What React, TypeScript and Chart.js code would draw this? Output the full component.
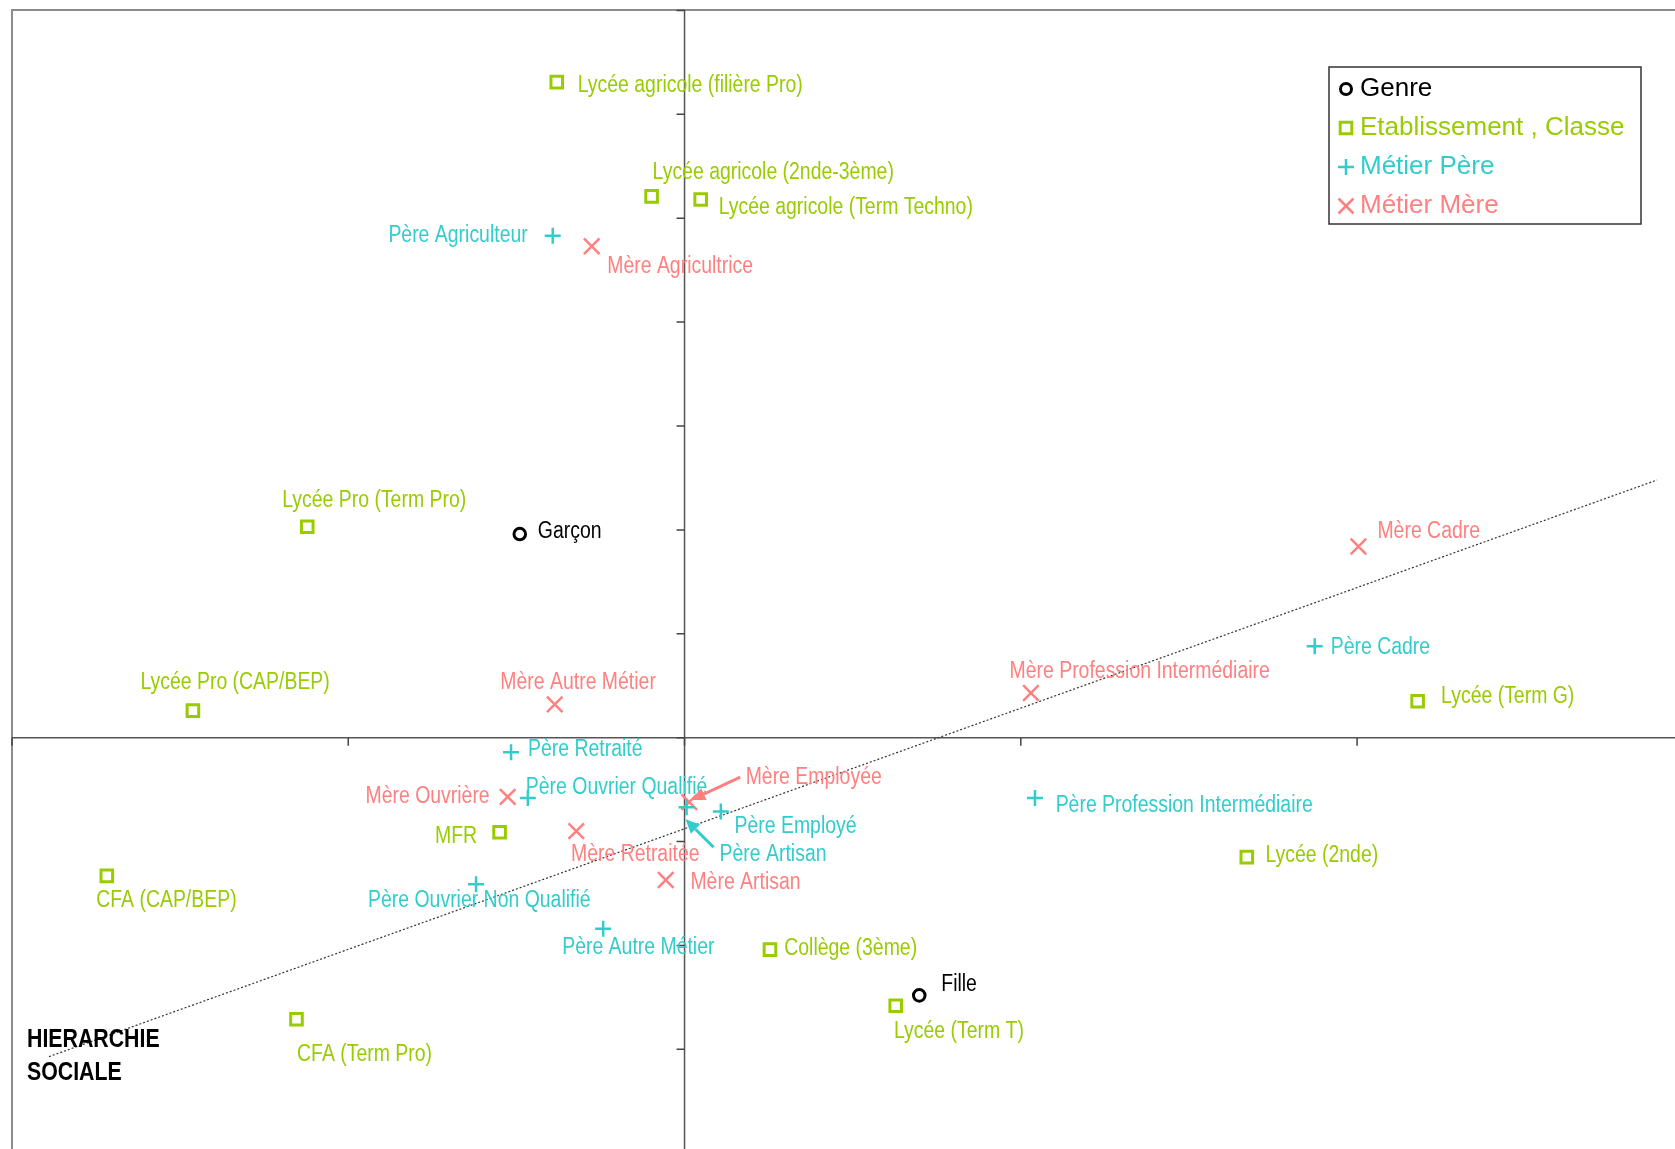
import React, { useEffect, useRef } from 'react';
import { Chart, registerables } from 'chart.js';

Chart.register(...registerables);

// ---------- DATA ----------
const genreLabels = ['Garçon', 'Fille'];
const genreX = [-0.245, 0.349];
const genreY = [0.196, -0.248];

const etabLabels = [
  'Lycée agricole (filière Pro)',
  'Lycée agricole (2nde-3ème)',
  'Lycée agricole (Term Techno)',
  'Lycée Pro (Term Pro)',
  'Lycée Pro (CAP/BEP)',
  'MFR',
  'CFA (CAP/BEP)',
  'CFA (Term Pro)',
  'Collège (3ème)',
  'Lycée (Term T)',
  'Lycée (2nde)',
  'Lycée (Term G)',
];
const etabX = [-0.19, -0.049, 0.024, -0.561, -0.731, -0.275, -0.859, -0.577, 0.127, 0.314, 0.836, 1.09];
const etabY = [0.631, 0.521, 0.518, 0.203, 0.026, -0.091, -0.133, -0.271, -0.204, -0.258, -0.115, 0.035];

const pereLabels = [
  'Père Agriculteur',
  'Père Retraité',
  'Père Ouvrier Qualifié',
  'Père Ouvrier Non Qualifié',
  'Père Autre Métier',
  'Père Artisan',
  'Père Employé',
  'Père Profession Intermédiaire',
  'Père Cadre',
];
const pereX = [-0.196, -0.258, -0.233, -0.31, -0.121, 0.003, 0.054, 0.521, 0.937];
const pereY = [0.483, -0.014, -0.058, -0.141, -0.184, -0.067, -0.071, -0.058, 0.088];

const mereLabels = [
  'Mère Agricultrice',
  'Mère Autre Métier',
  'Mère Ouvrière',
  'Mère Retraitée',
  'Mère Employée',
  'Mère Artisan',
  'Mère Profession Intermédiaire',
  'Mère Cadre',
];
const mereX = [-0.138, -0.193, -0.263, -0.161, 0.007, -0.028, 0.515, 1.002];
const mereY = [0.473, 0.032, -0.057, -0.09, -0.062, -0.137, 0.043, 0.184];

// "HIERARCHIE SOCIALE" trend line
const hierX = [-0.945, 1.446];
const hierY = [-0.307, 0.248];
const hierText = ['HIERARCHIE', 'SOCIALE'];

// unlabeled tick marks on the axes through the origin
const xTicks = [-1, -0.5, 0, 0.5, 1];
const yTicks = [-0.3, -0.2, -0.1, 0, 0.1, 0.2, 0.3, 0.4, 0.5, 0.6, 0.7];

// ---------- LAYOUT (label placement relative to markers, px) ----------
type Off = [number, number, 'l' | 'r' | 'c'];
const genreOff: Off[] = [[18, -4, 'l'], [22, -12, 'l']];
const etabOff: Off[] = [
  [21, 2, 'l'], [1, -25, 'l'], [18, 7, 'l'], [-25, -28, 'l'], [-52.5, -30, 'l'], [-22.5, 3, 'r'],
  [-10.6, 23.6, 'l'], [0.6, 34, 'l'], [14.3, -2.6, 'l'], [-1.7, 24, 'l'], [18.7, -3.4, 'l'], [23.5, -6.7, 'l'],
];
const pereOff: Off[] = [
  [-25, -2, 'r'], [17, -4.3, 'l'], [-2, -11.7, 'l'], [-108, 15, 'l'], [-41, 17.7, 'l'],
  [33, 46, 'l'], [13.6, 14, 'l'], [20.7, 6.3, 'l'], [16, 0, 'l'],
];
const mereOff: Off[] = [
  [15.5, 19, 'l'], [-54.4, -23, 'l'], [-18, -1.7, 'r'], [-5.3, 21.6, 'l'], [56.4, -26.3, 'l'],
  [24.7, 1, 'l'], [-21.4, -22.6, 'l'], [19, -16.7, 'l'],
];
const LABEL_DY = 1.6;

const BLACK = '#000000';
const GREEN = '#99CC00';
const CYAN = '#33CCCC';
const PINK = '#FF8080';
const FONT_FAMILY = "'Liberation Sans', Arial, Helvetica, sans-serif";
const LABEL_FONT = `23px ${FONT_FAMILY}`;
const NARROW = 0.845;

const series = [
  { name: 'Genre', labels: genreLabels, xs: genreX, ys: genreY, off: genreOff, color: BLACK, style: 'circle' },
  { name: 'Etablissement , Classe', labels: etabLabels, xs: etabX, ys: etabY, off: etabOff, color: GREEN, style: 'rect' },
  { name: 'Métier Père', labels: pereLabels, xs: pereX, ys: pereY, off: pereOff, color: CYAN, style: 'cross' },
  { name: 'Métier Mère', labels: mereLabels, xs: mereX, ys: mereY, off: mereOff, color: PINK, style: 'crossRot' },
];

function drawText(ctx: CanvasRenderingContext2D, text: string, x: number, y: number, align: string, font: string, color: string, sx: number) {
  ctx.save();
  ctx.font = font;
  ctx.fillStyle = color;
  ctx.textBaseline = 'middle';
  ctx.textAlign = 'left';
  const w = ctx.measureText(text).width * sx;
  const left = align === 'l' ? x : align === 'r' ? x - w : x - w / 2;
  ctx.translate(left, y);
  ctx.scale(sx, 1);
  ctx.fillText(text, 0, 0);
  ctx.restore();
}

function drawArrow(ctx: CanvasRenderingContext2D, x1: number, y1: number, x2: number, y2: number, color: string) {
  const ang = Math.atan2(y2 - y1, x2 - x1);
  const head = 14;
  const hw = 6.5;
  const bx = x2 - head * Math.cos(ang);
  const by = y2 - head * Math.sin(ang);
  ctx.save();
  ctx.strokeStyle = color;
  ctx.fillStyle = color;
  ctx.lineWidth = 3;
  ctx.beginPath();
  ctx.moveTo(x1, y1);
  ctx.lineTo(bx, by);
  ctx.stroke();
  ctx.beginPath();
  ctx.moveTo(x2, y2);
  ctx.lineTo(bx + hw * Math.sin(ang), by - hw * Math.cos(ang));
  ctx.lineTo(bx - hw * Math.sin(ang), by + hw * Math.cos(ang));
  ctx.closePath();
  ctx.fill();
  ctx.restore();
}

function drawMarker(ctx: CanvasRenderingContext2D, style: string, x: number, y: number, color: string) {
  ctx.save();
  ctx.strokeStyle = color;
  ctx.lineWidth = style === 'cross' || style === 'crossRot' ? 2.5 : 3;
  ctx.beginPath();
  if (style === 'circle') {
    ctx.arc(x, y, 5.5, 0, Math.PI * 2);
  } else if (style === 'rect') {
    ctx.rect(x - 5.8, y - 5.8, 11.6, 11.6);
  } else if (style === 'cross') {
    ctx.moveTo(x - 8, y); ctx.lineTo(x + 8, y);
    ctx.moveTo(x, y - 8); ctx.lineTo(x, y + 8);
  } else {
    ctx.moveTo(x - 7.5, y - 7.5); ctx.lineTo(x + 7.5, y + 7.5);
    ctx.moveTo(x + 7.5, y - 7.5); ctx.lineTo(x - 7.5, y + 7.5);
  }
  ctx.stroke();
  ctx.restore();
}

const overlayPlugin = {
  id: 'acmOverlay',
  beforeDatasetsDraw(chart: any) {
    const { ctx, chartArea: ca, scales } = chart;
    const sx = scales.x;
    const sy = scales.y;
    const x0 = sx.getPixelForValue(0);
    const y0 = sy.getPixelForValue(0);
    ctx.save();
    // frame
    ctx.strokeStyle = '#8c8c8c';
    ctx.lineWidth = 2;
    ctx.beginPath();
    ctx.moveTo(ca.left, ca.bottom + 2);
    ctx.lineTo(ca.left, ca.top);
    ctx.lineTo(ca.right + 2, ca.top);
    ctx.stroke();
    // axes
    ctx.strokeStyle = '#555555';
    ctx.lineWidth = 1.5;
    ctx.beginPath();
    ctx.moveTo(ca.left, y0);
    ctx.lineTo(ca.right, y0);
    ctx.moveTo(x0, ca.top);
    ctx.lineTo(x0, ca.bottom);
    ctx.stroke();
    // ticks
    ctx.strokeStyle = '#444444';
    ctx.lineWidth = 1.5;
    ctx.beginPath();
    xTicks.forEach((v) => {
      const px = sx.getPixelForValue(v);
      ctx.moveTo(px, y0);
      ctx.lineTo(px, y0 + 8);
    });
    yTicks.forEach((v) => {
      const py = sy.getPixelForValue(v);
      ctx.moveTo(x0, py);
      ctx.lineTo(x0 - 8, py);
    });
    ctx.stroke();
    ctx.restore();
  },
  afterDatasetsDraw(chart: any) {
    const { ctx, chartArea: ca } = chart;
    // point labels
    series.forEach((s, di) => {
      const meta = chart.getDatasetMeta(di);
      meta.data.forEach((el: any, i: number) => {
        const o = s.off[i];
        drawText(ctx, s.labels[i], el.x + o[0], el.y + o[1] + LABEL_DY, o[2], LABEL_FONT, s.color, NARROW);
      });
    });
    // annotation arrows
    const mEmp = chart.getDatasetMeta(3).data[4];
    drawArrow(ctx, mEmp.x + 51, mEmp.y - 25, mEmp.x + 2, mEmp.y - 2, PINK);
    const pArt = chart.getDatasetMeta(2).data[5];
    drawArrow(ctx, pArt.x + 27, pArt.y + 40, pArt.x - 1, pArt.y + 12, CYAN);
    // hierarchy caption
    const hStart = chart.getDatasetMeta(4).data[0];
    drawText(ctx, hierText[0], hStart.x - 22, hStart.y - 16.5, 'l', `bold 26px ${FONT_FAMILY}`, BLACK, 0.82);
    drawText(ctx, hierText[1], hStart.x - 22, hStart.y + 16.5, 'l', `bold 26px ${FONT_FAMILY}`, BLACK, 0.82);
    // legend box
    const bw = 312;
    const bh = 157;
    const bx = ca.right - 34 - bw;
    const by = ca.top + 57;
    ctx.save();
    ctx.fillStyle = '#ffffff';
    ctx.fillRect(bx, by, bw, bh);
    ctx.strokeStyle = '#333333';
    ctx.lineWidth = 1.5;
    ctx.strokeRect(bx, by, bw, bh);
    ctx.restore();
    series.forEach((s, i) => {
      const ry = by + 22 + i * 39;
      drawMarker(ctx, s.style, bx + 17, ry, s.color);
      drawText(ctx, s.name, bx + 31, ry, 'l', `26px ${FONT_FAMILY}`, s.color, 1);
    });
  },
};

export default function App() {
  const canvasRef = useRef<HTMLCanvasElement | null>(null);

  useEffect(() => {
    document.body.style.margin = '0';
    document.documentElement.style.overflow = 'hidden';
    document.body.style.overflow = 'hidden';
    if (!canvasRef.current) return;
    const pts = (xs: number[], ys: number[]) => xs.map((x, i) => ({ x, y: ys[i] }));
    const radius: Record<string, number> = { circle: 5.8, rect: 8.2, cross: 8, crossRot: 11 };
    const datasets: any[] = series.map((s) => ({
      type: 'scatter',
      label: s.name,
      data: pts(s.xs, s.ys),
      pointStyle: s.style,
      pointRadius: radius[s.style],
      pointBorderWidth: s.style === 'cross' || s.style === 'crossRot' ? 2.5 : 3,
      borderColor: s.color,
      backgroundColor: 'rgba(255,255,255,0)',
      order: 1,
      clip: false,
    }));
    datasets.push({
      type: 'line',
      label: 'Hiérarchie sociale',
      data: pts(hierX, hierY),
      borderColor: '#333333',
      borderWidth: 1.2,
      borderDash: [2, 2],
      pointRadius: 0,
      fill: false,
      order: 5,
    });
    const chart = new Chart(canvasRef.current, {
      type: 'scatter',
      data: { datasets },
      options: {
        animation: false,
        responsive: false,
        devicePixelRatio: 1,
        layout: { autoPadding: false, padding: { left: 12, top: 10, right: 0, bottom: 0 } },
        scales: {
          x: { type: 'linear', min: -1, max: 1.4727, display: false },
          y: { type: 'linear', min: -0.3959, max: 0.7004, display: false },
        },
        plugins: { legend: { display: false }, tooltip: { enabled: false } },
        events: [],
      },
      plugins: [overlayPlugin],
    } as any);
    return () => chart.destroy();
  }, []);

  return (
    <div style={{ width: 1675, height: 1149, margin: 0, padding: 0, background: '#ffffff', overflow: 'hidden' }}>
      <canvas ref={canvasRef} width={1675} height={1149} style={{ display: 'block', width: 1675, height: 1149 }} />
    </div>
  );
}
